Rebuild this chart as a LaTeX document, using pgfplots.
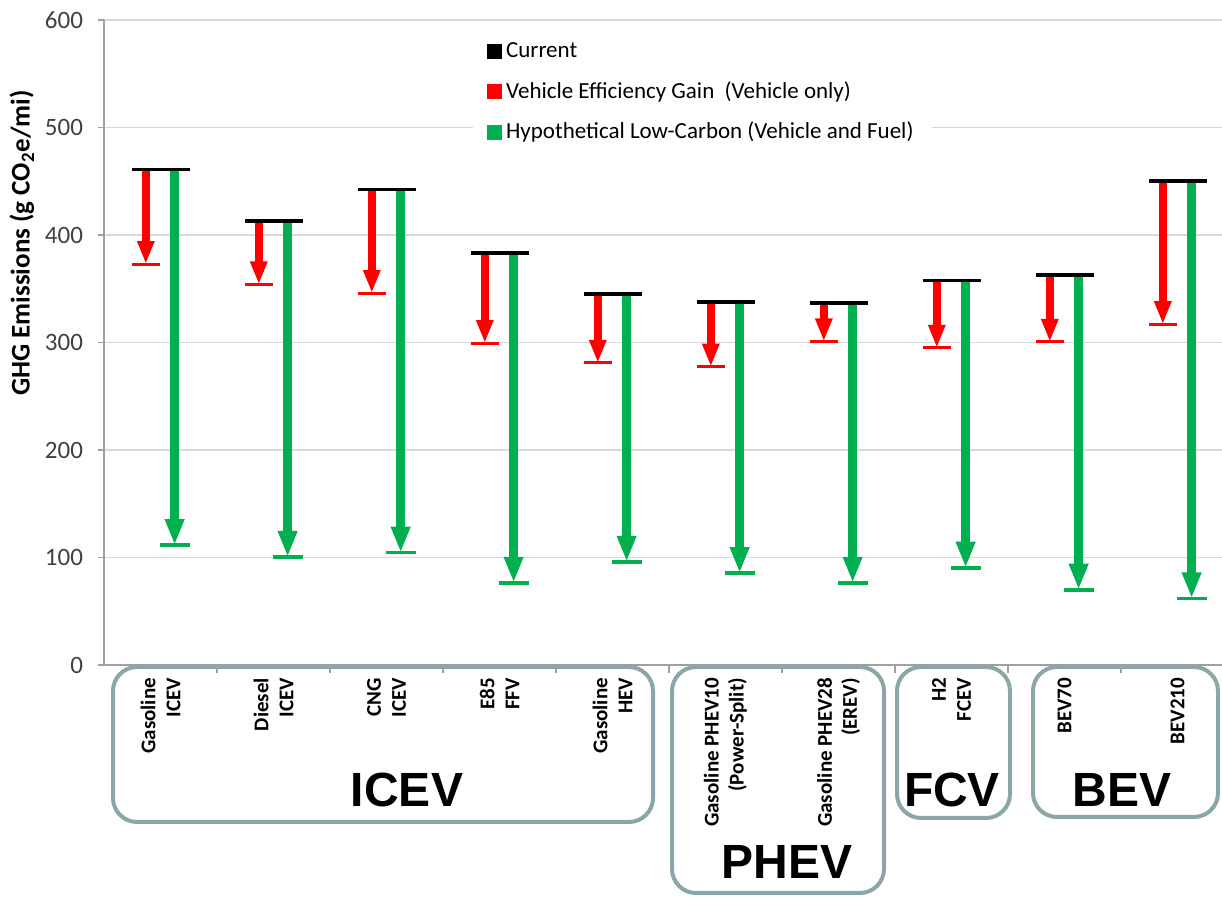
\documentclass[border=0pt]{standalone}
\usepackage{pgfplots}
\pgfplotsset{compat=1.18}
\usepackage{pgfplotstable}
\usetikzlibrary{arrows.meta}
\usepackage{fontspec}
\setmainfont{Carlito}
\newfontfamily\arialb{Liberation Sans}
\definecolor{ggreen}{HTML}{00B050}
\definecolor{gred}{HTML}{FF0000}
\definecolor{boxc}{HTML}{8BA5A8}
\definecolor{gridc}{HTML}{D9D9D9}
\definecolor{axc}{HTML}{A0A0A0}
\definecolor{tickc}{HTML}{404040}

\pgfplotstableread{
x cur red green
0 461 373 111.5
1 413 354 100.5
2 442.5 346 104.5
3 383.5 299.5 76.5
4 345 281 96
5 337.5 277.5 85.5
6 336.5 301 76.5
7 357.5 295 90.5
8 363 300.5 70
9 450.5 317 62
}\datatable

\begin{document}
\begin{tikzpicture}
\begin{axis}[
  scale only axis, width=559pt, height=322.5pt,
  xmin=-0.5, xmax=9.394, ymin=0, ymax=600,
  axis lines*=left,
  axis line style={draw=axc, line width=0.6pt},
  ytick={0,100,...,600},
  ymajorgrids, grid style={draw=gridc, line width=0.8pt},
  xtick={0,...,9},
  xticklabels={{Gasoline\\ICEV},{Diesel\\ICEV},{CNG\\ICEV},{E85\\FFV},{Gasoline\\HEV},{Gasoline PHEV10\\(Power-Split)},{Gasoline PHEV28\\(EREV)},{H2\\FCEV},{BEV70},{BEV210}},
  major x tick style={draw=none},
  minor xtick={0.5,1.5,...,8.5},
  tick align=outside, major tick length=3pt, minor tick length=4pt,
  tick style={draw=axc, line width=0.6pt},
  /pgf/number format/assume math mode=true,
  yticklabel style={font=\fontsize{12.5}{14}\selectfont, text=tickc, xshift=-4pt},
  xticklabel style={font=\bfseries\fontsize{10.5}{12.5}\selectfont, rotate=90, anchor=east, align=right, text=black},
  clip=false,
  legend style={at={(rel axis cs:0.330,0.9814)}, anchor=north west, draw=none, fill=white,
    font=\fontsize{11.5}{13.8}\selectfont, row sep=6.5pt, inner xsep=7pt, inner ysep=3pt},
  legend cell align=left,
]
\coordinate (O) at (rel axis cs:0,0);
% red arrows
\addplot[forget plot, draw=gred, line width=4pt, line cap=butt, -{Triangle[width=8pt,length=11.5pt]},
  quiver={u=0, v=\thisrow{red}-\thisrow{cur}}]
  table[x expr=\thisrow{x}-0.13, y=cur] {\datatable};
% green arrows
\addplot[forget plot, draw=ggreen, line width=4.5pt, line cap=butt, -{Triangle[width=9pt,length=13pt]},
  quiver={u=0, v=\thisrow{green}-\thisrow{cur}}]
  table[x expr=\thisrow{x}+0.125, y=cur] {\datatable};
% red caps
\addplot[forget plot, only marks, mark=-, mark size=7pt, mark options={draw=gred, line width=1.5pt}]
  table[x expr=\thisrow{x}-0.13, y=red] {\datatable};
% green caps
\addplot[forget plot, only marks, mark=-, mark size=7.5pt, mark options={draw=ggreen, line width=1.8pt}]
  table[x expr=\thisrow{x}+0.125, y=green] {\datatable};
% current
\addplot[forget plot, only marks, mark=-, mark size=14.5pt, mark options={draw=black, line width=1.8pt}]
  table[x=x, y=cur] {\datatable};

\addlegendimage{legend image code/.code={\fill[black] (0pt,-3.5pt) rectangle (7pt,3.5pt);}}
\addlegendentry{Current}
\addlegendimage{legend image code/.code={\fill[gred] (0pt,-3.5pt) rectangle (7pt,3.5pt);}}
\addlegendentry{Vehicle Efficiency Gain\ \ (Vehicle only)}
\addlegendimage{legend image code/.code={\fill[ggreen] (0pt,-3.5pt) rectangle (7pt,3.5pt);}}
\addlegendentry{Hypothetical Low-Carbon (Vehicle and Fuel)}
\end{axis}

\node[rotate=90, font=\bfseries\fontsize{13.5}{16}\selectfont] at ([shift={(-41pt,211pt)}]O) {GHG Emissions (g CO\textsubscript{2}e/mi)};

\begin{scope}[draw=boxc, line width=2pt, rounded corners=12pt]
\draw ([shift={(4.5pt,-1pt)}]O) rectangle ([shift={(274.5pt,-78.5pt)}]O);
\draw ([shift={(284pt,-1pt)}]O) rectangle ([shift={(390pt,-114pt)}]O);
\draw ([shift={(396.5pt,-1pt)}]O) rectangle ([shift={(453pt,-76.5pt)}]O);
\draw ([shift={(464.5pt,-1pt)}]O) rectangle ([shift={(557pt,-76pt)}]O);
\end{scope}
\begin{scope}[every node/.style={font=\arialb\bfseries\fontsize{24}{28}\selectfont, inner sep=0pt}]
\node at ([shift={(151.5pt,-62.5pt)}]O) {ICEV};
\node at ([shift={(341.5pt,-98.5pt)}]O) {PHEV};
\node at ([shift={(424pt,-62.5pt)}]O) {FCV};
\node at ([shift={(509pt,-62.5pt)}]O) {BEV};
\end{scope}

\pgfresetboundingbox
\path[use as bounding box] ([shift={(-52pt,-116pt)}]O) rectangle ([shift={(559pt,332.5pt)}]O);
\end{tikzpicture}
\end{document}
